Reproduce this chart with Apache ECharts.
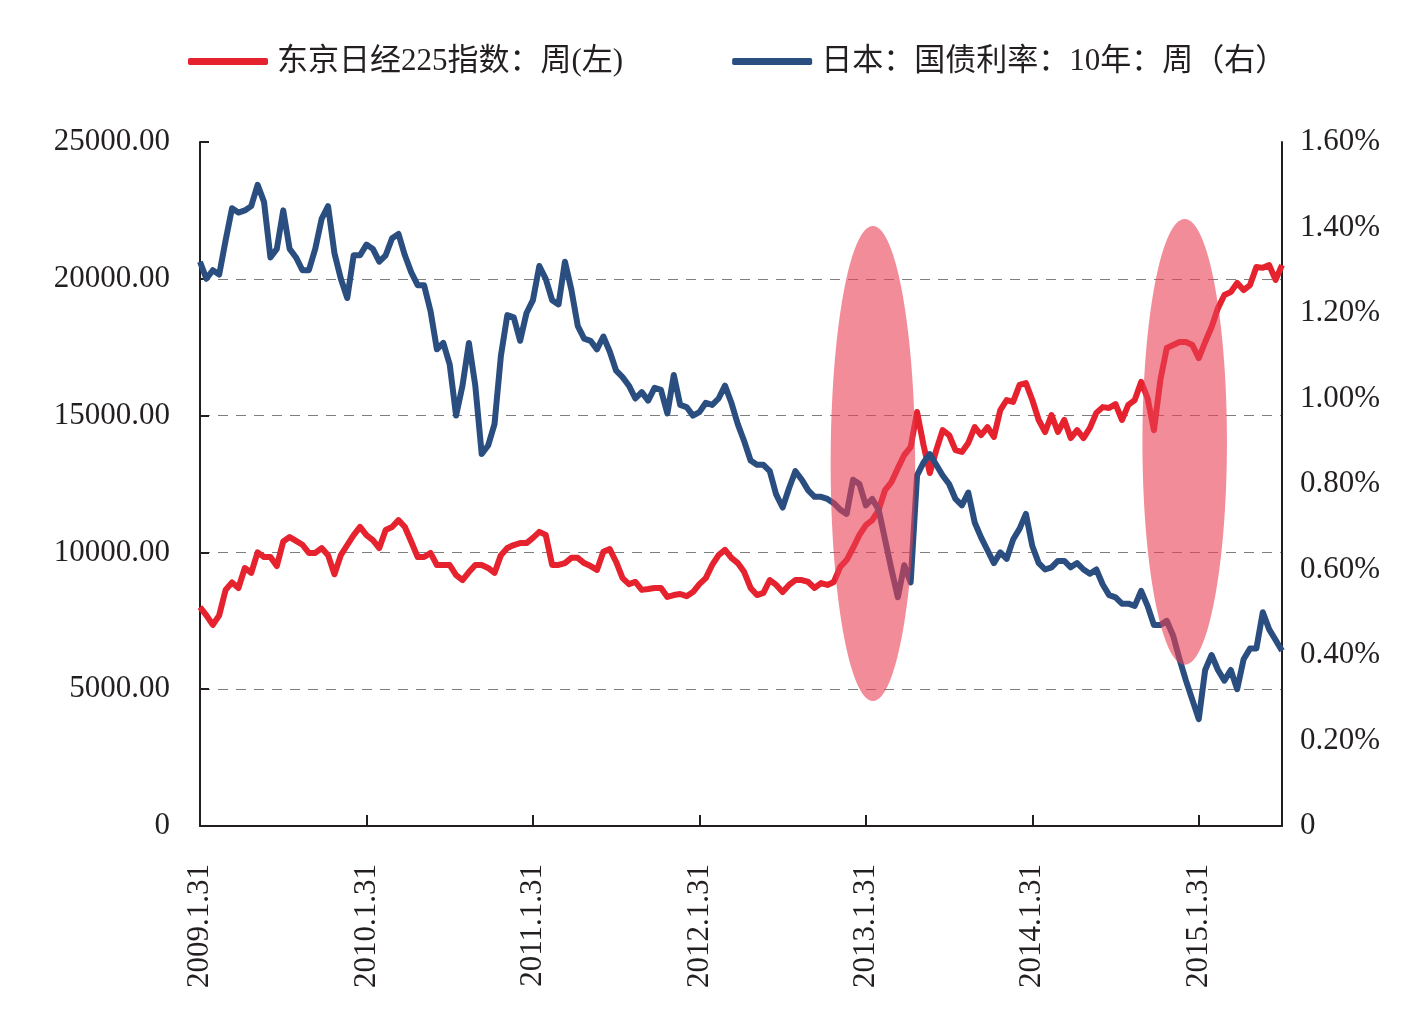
<!DOCTYPE html>
<html>
<head>
<meta charset="utf-8">
<title>东京日经225指数与日本10年期国债利率</title>
<script src="https://cdn.jsdelivr.net/npm/echarts@6/dist/echarts.min.js"></script>
<style>
html, body { margin: 0; padding: 0; background: #fff; }
#main { width: 1412px; height: 1013px; }
</style>
</head>
<body>
<div id="main"></div>
<script>
'use strict'; //严格模式

// 横轴刻度标签
var tickLabels = ['2009.1.31', '2010.1.31', '2011.1.31', '2012.1.31', '2013.1.31', '2014.1.31', '2015.1.31'];
var startDate = [2009, 0, 31]; // 双周数据起点

// 东京日经225指数（左轴）
var nikkei = [
	8000, 7700, 7350, 7700, 8630, 8900, 8700, 9430, 9250, 10000,
	9830, 9830, 9500, 10400, 10560, 10420, 10280, 9980, 9980, 10160,
	9900, 9200, 9900, 10270, 10630, 10930, 10630, 10450, 10160, 10820,
	10930, 11180, 10930, 10390, 9830, 9830, 9980, 9540, 9540, 9540,
	9170, 8990, 9280, 9540, 9540, 9430, 9250, 9900, 10160, 10270,
	10340, 10340, 10530, 10750, 10640, 9540, 9540, 9610, 9800, 9800,
	9610, 9500, 9360, 10020, 10120, 9650, 9060, 8840, 8920, 8630,
	8660, 8700, 8700, 8370, 8440, 8480, 8400, 8550, 8840, 9060,
	9540, 9900, 10090, 9800, 9610, 9280, 8700, 8440, 8520, 8990,
	8810, 8550, 8810, 8990, 8990, 8920, 8700, 8880, 8810, 8920,
	9470, 9720, 10160, 10640, 11000, 11180, 11550, 12280, 12570, 13080,
	13560, 13850, 15130, 13930, 12900, 13740, 14470, 14290, 13740, 13670,
	14000, 14580, 14290, 14580, 14220, 15200, 15570, 15500, 16120, 16190,
	15570, 14840, 14400, 15020, 14400, 14840, 14180, 14470, 14180, 14550,
	15100, 15310, 15280, 15420, 14840, 15390, 15570, 16230, 15640, 14470,
	16300, 17470, 17580, 17690, 17690, 17580, 17100, 17690, 18240, 18930,
	19410, 19520, 19850, 19590, 19770, 20430, 20400, 20500, 19960, 20500
];

// 日本10年期国债利率（右轴，%）
var jgb10y = [
	1.32, 1.28, 1.30, 1.29, 1.37, 1.445, 1.435, 1.44, 1.45, 1.50,
	1.46, 1.33, 1.35, 1.44, 1.35, 1.33, 1.30, 1.30, 1.35, 1.42,
	1.45, 1.34, 1.28, 1.235, 1.335, 1.335, 1.36, 1.35, 1.32, 1.335,
	1.375, 1.385, 1.335, 1.295, 1.265, 1.265, 1.205, 1.115, 1.13, 1.08,
	0.96, 1.03, 1.13, 1.03, 0.87, 0.89, 0.94, 1.10, 1.195, 1.19,
	1.135, 1.20, 1.23, 1.31, 1.28, 1.23, 1.22, 1.32, 1.255, 1.17,
	1.14, 1.135, 1.115, 1.145, 1.11, 1.065, 1.05, 1.03, 1.00, 1.015,
	0.995, 1.025, 1.02, 0.965, 1.055, 0.985, 0.98, 0.96, 0.968, 0.99,
	0.985, 1.00, 1.03, 0.99, 0.94, 0.90, 0.855, 0.845, 0.845, 0.83,
	0.775, 0.745, 0.79, 0.83, 0.81, 0.785, 0.77, 0.77, 0.765, 0.755,
	0.74, 0.73, 0.81, 0.80, 0.75, 0.765, 0.74, 0.67, 0.60, 0.535,
	0.61, 0.57, 0.82, 0.85, 0.87, 0.845, 0.82, 0.80, 0.765, 0.75,
	0.78, 0.71, 0.675, 0.645, 0.615, 0.64, 0.625, 0.67, 0.695, 0.73,
	0.655, 0.615, 0.60, 0.605, 0.62, 0.62, 0.605, 0.615, 0.60, 0.59,
	0.60, 0.565, 0.54, 0.535, 0.52, 0.52, 0.515, 0.55, 0.515, 0.47,
	0.47, 0.48, 0.445, 0.39, 0.34, 0.295, 0.25, 0.365, 0.40, 0.365,
	0.34, 0.365, 0.32, 0.39, 0.415, 0.415, 0.50, 0.46, 0.435, 0.41
];

// 标注椭圆：中心类目序号、半宽（类目数）、上下沿（左轴数值）
var markCenter = [105.1, 153.8];
var markHalfSpan = [6.6, 6.6];
var markTop = [21930, 22190];
var markBottom = [4570, 5890];

var seriesNames = ['东京日经225指数：周(左)', '日本：国债利率：10年：周（右）'];
var colorList = ['#E5222E', '#2B4E80'];
var fontFamily = '"Liberation Serif", "Noto Sans CJK SC", serif';

// 生成双周日期类目
var categories = [];
var t0 = Date.UTC(startDate[0], startDate[1], startDate[2]);
for (var i = 0; i < nikkei.length; i++) {
	var d = new Date(t0 + i * 14 * 86400000);
	categories.push(d.getUTCFullYear() + '-' + (d.getUTCMonth() + 1) + '-' + d.getUTCDate());
}

// 每个刻度标签对应最近的类目序号
var tickIndex = tickLabels.map(function(label) {
	var p = label.split('.');
	var target = Date.UTC(+p[0], +p[1] - 1, +p[2]);
	var best = 0, bestDiff = Infinity;
	for (var k = 0; k < categories.length; k++) {
		var diff = Math.abs(t0 + k * 14 * 86400000 - target);
		if (diff < bestDiff) { bestDiff = diff; best = k; }
	}
	return best;
});
function isTick(index) {
	return tickIndex.indexOf(index) >= 0;
}

var chart = echarts.init(document.getElementById('main'));

var option = {
	backgroundColor: '#ffffff',
	animation: false,
	legend: {
		data: seriesNames,
		left: 183,
		top: 41,
		icon: 'roundRect',
		itemWidth: 80,
		itemHeight: 7,
		itemGap: 109,
		textStyle: {
			fontFamily: fontFamily,
			fontSize: 31,
			color: '#231F20',
			padding: [0, 0, 0, 4]
		}
	},
	grid: {
		left: 200,
		right: 130,
		top: 142,
		bottom: 187
	},
	xAxis: {
		type: 'category',
		boundaryGap: false,
		data: categories,
		axisLine: {
			lineStyle: { color: '#231F20', width: 2 }
		},
		axisTick: {
			inside: true,
			length: 11,
			interval: isTick,
			lineStyle: { color: '#231F20', width: 2 }
		},
		axisLabel: {
			interval: isTick,
			rotate: 90,
			margin: 38,
			fontFamily: fontFamily,
			fontSize: 31,
			color: '#231F20',
			formatter: function(value, index) {
				var k = tickIndex.indexOf(index);
				return k >= 0 ? tickLabels[k] : '';
			}
		},
		splitLine: { show: false }
	},
	yAxis: [{
		type: 'value',
		min: 0,
		max: 25000,
		interval: 5000,
		axisLine: {
			show: true,
			lineStyle: { color: '#231F20', width: 2 }
		},
		axisTick: {
			show: true,
			inside: true,
			length: 9,
			lineStyle: { color: '#231F20', width: 2 }
		},
		axisLabel: {
			margin: 30,
			fontFamily: fontFamily,
			fontSize: 31,
			color: '#231F20',
			formatter: function(v) {
				return v === 0 ? '0' : v.toFixed(2);
			}
		},
		splitLine: {
			show: true,
			showMinLine: false,
			showMaxLine: false,
			lineStyle: { color: '#7F7F7F', type: [10, 8], width: 1.2 }
		}
	}, {
		type: 'value',
		position: 'right',
		min: 0,
		max: 1.6,
		interval: 0.2,
		axisLine: {
			show: true,
			lineStyle: { color: '#231F20', width: 2 }
		},
		axisTick: { show: false },
		axisLabel: {
			margin: 18,
			fontFamily: fontFamily,
			fontSize: 31,
			color: '#231F20',
			formatter: function(v) {
				return v === 0 ? '0' : v.toFixed(2) + '%';
			}
		},
		splitLine: { show: false }
	}],
	series: [{
		name: seriesNames[0],
		type: 'line',
		yAxisIndex: 0,
		data: nikkei,
		showSymbol: false,
		itemStyle: { color: colorList[0] },
		lineStyle: { color: colorList[0], width: 6, join: 'round' }
	}, {
		name: seriesNames[1],
		type: 'line',
		yAxisIndex: 1,
		data: jgb10y,
		showSymbol: false,
		itemStyle: { color: colorList[1] },
		lineStyle: { color: colorList[1], width: 6, join: 'round' }
	}]
};

chart.setOption(option);

// 半透明椭圆标注，位置由坐标轴换算
function drawMarks() {
	var x0 = chart.convertToPixel({ xAxisIndex: 0 }, 0);
	var x100 = chart.convertToPixel({ xAxisIndex: 0 }, 100);
	var step = (x100 - x0) / 100;
	var elements = markCenter.map(function(c, k) {
		var yTop = chart.convertToPixel({ yAxisIndex: 0 }, markTop[k]);
		var yBottom = chart.convertToPixel({ yAxisIndex: 0 }, markBottom[k]);
		return {
			type: 'ellipse',
			z: 100,
			silent: true,
			shape: {
				cx: x0 + c * step,
				cy: (yTop + yBottom) / 2,
				rx: markHalfSpan[k] * step,
				ry: (yBottom - yTop) / 2
			},
			style: { fill: 'rgba(232, 64, 84, 0.6)' }
		};
	});
	chart.setOption({ graphic: { elements: elements } });
}
drawMarks();

window.addEventListener('resize', function() {
	chart.resize();
	drawMarks();
});
</script>
</body>
</html>
